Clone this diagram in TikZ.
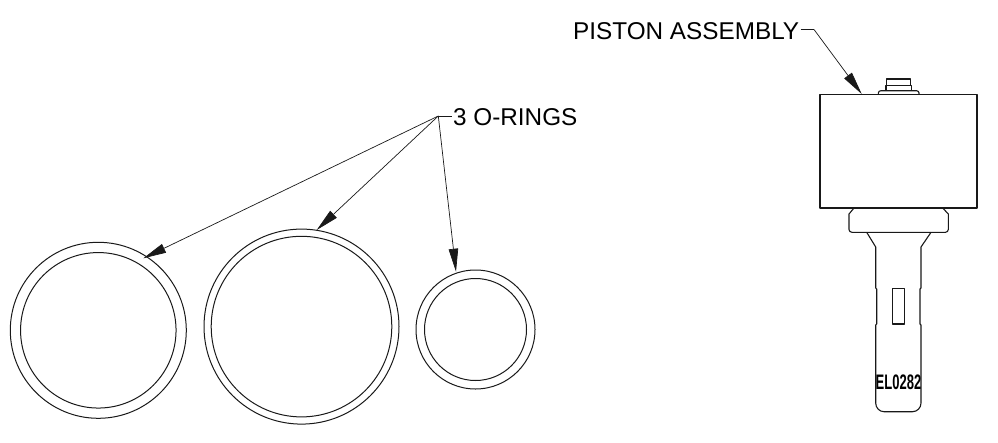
\documentclass[tikz,border=0pt]{standalone}
\usepackage{fontspec}
\setmainfont{Liberation Sans}
\usetikzlibrary{arrows.meta}
\tikzset{
  x=1pt,y=-1pt,
  part/.style={draw=black!90,line width=1.1pt,line join=round},
  ring/.style={circle,draw=black!90,line width=1pt,inner sep=0pt,fill=none},
  leader/.style={draw=black!90,line width=0.7pt},
  pointer/.style={leader,-{Triangle[length=23pt,width=9.5pt]}},
  label/.style={font=\fontsize{24.3pt}{26pt}\selectfont,inner sep=0pt,anchor=base west,text=black},
}
\begin{document}
\begin{tikzpicture}
\useasboundingbox (0,0) rectangle (998,442);
% rings
\node[ring,minimum size=176pt] (r1o) at (98.3,330.3) {};
\node[ring,minimum size=155.5pt] (r1i) at (98.3,330.3) {};
\node[ring,minimum size=195pt] (r2o) at (301.5,326.6) {};
\node[ring,minimum size=180.6pt] (r2i) at (301.5,326.6) {};
\node[ring,minimum size=119pt] (r3o) at (475.5,329.5) {};
\node[ring,minimum size=102pt] (r3i) at (475.5,329.5) {};
% o-ring leaders
\node[label] (oring) at (453,125.5) {3 O-RINGS};
\coordinate (oj) at (438.3,116);
\coordinate (t1) at (143.3,258.3);
\coordinate (t2) at (316.7,230);
\coordinate (t3) at (456,271.7);
\draw[leader] (451.5,116) -- (oj);
\draw[pointer] (oj) -- (t1);
\draw[pointer] (oj) -- (t2);
\draw[pointer] (oj) -- (t3);
% piston
\node[label] (piston) at (573,39) {PISTON ASSEMBLY};
\coordinate (pj) at (814,29.5);
\coordinate (pt) at (861.7,94);
\draw[leader] (800.5,29.5) -- (pj);
\draw[pointer] (pj) -- (pt);
\draw[part] (820,94.3) rectangle (977,208);
\draw[part] (878.3,94) -- (878.3,93) to[out=90,in=180] (881,90.7) -- (916.5,90.7) to[out=0,in=90] (919,93) -- (919,94);
\draw[part] (886,90.7) -- (886,85.3) -- (911.7,85.3) -- (911.7,90.7);
\draw[part] (886.7,85.3) -- (886.7,79) -- (910.7,79) -- (910.7,85.3);
\draw[part] (854,208) -- (849,214) -- (849,229.5) to[out=-90,in=180] (852,232.3) -- (945.5,232.3) to[out=0,in=-90] (948.3,229.5) -- (948.3,214) -- (942.7,208);
\draw[part] (866.7,232.3) -- (875.7,247) -- (875.7,288) -- (876.7,289) -- (876.7,324) -- (875.7,325) -- (875.7,403) to[out=-90,in=180] (884,411.7) -- (912.5,411.7) to[out=0,in=-90] (921,403) -- (921,325) -- (920,324) -- (920,289) -- (921,288) -- (921,247) -- (931,232.3);
\draw[part] (892.7,288.7) rectangle (904.3,324);
\node[inner sep=0pt,text=black] (code) at (898.5,382.5) {\scalebox{0.62}[1]{\fontsize{21pt}{22pt}\selectfont\bfseries EL0282}};
\end{tikzpicture}
\end{document}
